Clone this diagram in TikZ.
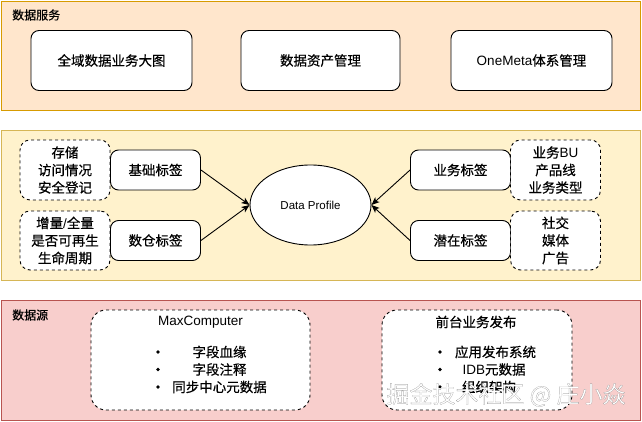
\documentclass[tikz,border=0pt]{standalone}
\usepackage{fontspec}
\setmainfont{Noto Sans CJK SC}[RawFeature={embolden=0.5}]
\newfontfamily\lat{Liberation Sans}
\usetikzlibrary{arrows.meta,shapes.geometric}
\definecolor{svcfill}{HTML}{FFE6CC}
\definecolor{svcline}{HTML}{D79B00}
\definecolor{tagfill}{HTML}{FFF2CC}
\definecolor{tagline}{HTML}{D6B656}
\definecolor{srcfill}{HTML}{F8CECC}
\definecolor{srcline}{HTML}{B85450}
\newcommand\outlined[1]{\color{white}\special{pdf:literal direct 2 Tr 0.6 w 0.5 G}#1\special{pdf:literal direct 0 Tr}}
\begin{document}
\begin{tikzpicture}[x=1pt, y=-1pt,
	every node/.style={font=\fontsize{13.5}{17.5}\selectfont, align=center, inner sep=0pt},
	box/.style={draw, fill=white, rounded corners=8pt, line width=0.9pt},
	note/.style={draw, fill=white, rounded corners=10pt, dash pattern=on 3pt off 3pt, line width=0.9pt},
	tip/.style={-{Stealth[length=8pt,width=6.5pt,inset=2pt]}, line width=0.9pt},
	caption/.style={anchor=west, font=\fontsize{12}{14}\selectfont}]
	\useasboundingbox (0,0) rectangle (642,422);

	% panels
	\draw[draw=svcline, fill=svcfill, line width=0.9pt] (1,1) rectangle (640.5,110);
	\draw[draw=tagline, fill=tagfill, line width=0.9pt] (1,130) rectangle (640.5,280);
	\draw[draw=srcline, fill=srcfill, line width=0.9pt] (1,300) rectangle (640.5,420);

	\node[caption] (svc) at (12,15) {数据服务};
	\node[caption] (src) at (12,315) {数据源};

	% services
	\node[box, minimum width=161, minimum height=60] (bigmap) at (111.5,60.5) {全域数据业务大图};
	\node[box, minimum width=159, minimum height=60] (asset) at (320.5,60.5) {数据资产管理};
	\node[box, minimum width=161, minimum height=60] (onemeta) at (531.5,60.5) {{\lat OneMeta}体系管理};

	% tags
	\node[draw, fill=white, ellipse, line width=0.9pt, minimum width=121, minimum height=80,
		font=\lat\fontsize{11.5}{14}\selectfont] (profile) at (310.5,205) {Data Profile};

	\node[note, minimum width=90, minimum height=60] (basenote) at (65,170) {存储\\访问情况\\安全登记};
	\node[box, minimum width=90, minimum height=40] (base) at (155.5,170) {基础标签};
	\node[note, minimum width=90, minimum height=59] (dwnote) at (65,240.5) {增量{\lat /}全量\\是否可再生\\生命周期};
	\node[box, minimum width=90, minimum height=40] (dw) at (155.5,240.5) {数仓标签};

	\node[box, minimum width=100, minimum height=40] (biz) at (460.5,170) {业务标签};
	\node[note, minimum width=90, minimum height=60] (biznote) at (555.5,170) {业务{\lat BU}\\产品线\\业务类型};
	\node[box, minimum width=100, minimum height=40] (latent) at (460.5,240.5) {潜在标签};
	\node[note, minimum width=90, minimum height=59] (latentnote) at (555.5,240.5) {社交\\媒体\\广告};

	\draw[tip] (base.east) -- (profile.west);
	\draw[tip] (dw.east) -- (profile.west);
	\draw[tip] (biz.west) -- (profile.east);
	\draw[tip] (latent.west) -- (profile.east);

	% sources
	\node[note, rounded corners=15pt, minimum width=219, minimum height=100] (maxc) at (200.5,360) {};
	\node (maxtitle) at (200.5,322) {\lat MaxComputer};
	\node (lineage) at (219.5,352) {字段血缘};
	\node (comment) at (219.5,369.5) {字段注释};
	\node (sync) at (219.5,387) {同步中心元数据};
	\fill (158,352) circle (1.8) (158,369.5) circle (1.8) (158,387) circle (1.8);

	\node[note, rounded corners=15pt, minimum width=190, minimum height=100] (front) at (477,360) {};
	\node (fronttitle) at (476,322) {前台业务发布};
	\node (release) at (495.5,352) {应用发布系统};
	\node (idb) at (494,369.5) {{\lat IDB}元数据};
	\node (org) at (489,387) {组织架构};
	\fill (440,352) circle (1.8) (440,369.5) circle (1.8) (440,387) circle (1.8);

	\node[font=\fontsize{23}{25}\selectfont] (mark) at (506,395) {\outlined{掘金技术社区 @ 庄小焱}};
\end{tikzpicture}
\end{document}
